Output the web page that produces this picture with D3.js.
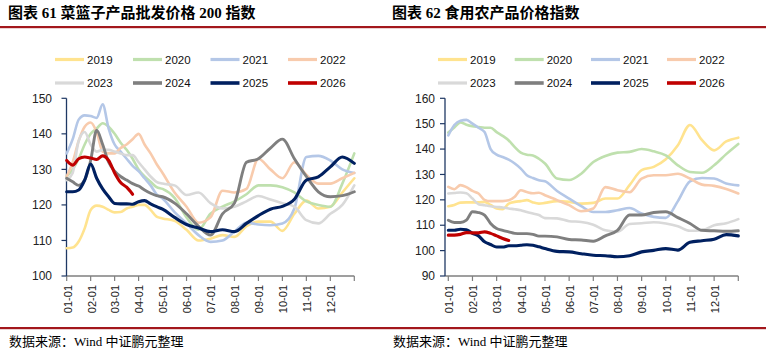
<!DOCTYPE html>
<html><head><meta charset="utf-8">
<script src="https://cdn.jsdelivr.net/npm/d3@7"></script>
<style>body{margin:0;background:#fff}svg{display:block}</style>
</head><body><svg id="c" width="766" height="354"></svg>
<script>
// ---------- data ----------
const years = ["2019","2020","2021","2022","2023","2024","2025","2026"];
const monthLabels = ["01-01","02-01","03-01","04-01","05-01","06-01","07-01","08-01","09-01","10-01","11-01","12-01"];
// position in months since 01-01
const monthPos = [0,0.25,0.5,0.75,1,1.25,1.5,1.75,2,2.25,2.5,2.75,3,3.25,3.5,3.75,4,4.5,5,5.5,6,6.5,7,7.5,8,8.5,9,9.5,10,10.5,11,11.5,12];
const basketTicks = [100,110,120,130,140,150];
const foodTicks = [90,100,110,120,130,140,150,160];

// 图表61 菜篮子产品批发价格200指数
const basket2019 = [107.8,108,109.7,113.4,118.6,119.8,119.5,118.6,117.9,118,119,119.5,120,120,118.6,116.7,116.2,115.5,113,110,110.5,111.5,111,114,115.3,115.3,112.7,117.5,121.2,119,119.5,123.5,127.5];
const basket2020 = [128,130,133,137,140,141.5,143,142,140,137.5,135.5,133,130,128,126.5,125,124.5,122,116.5,113,117.5,119.5,121,123,125.5,125.5,125,123.5,121,120,119.5,126,134.5];
const basket2021 = [134.5,138.5,144,145.2,145,144.5,148.3,141.5,137,135,133,131,129.5,127.5,125.5,123,121.8,118,114.8,111.5,109.6,110,112.5,115,114.5,114.3,114.8,119,133.5,133.8,132.5,130,129];
const basket2022 = [128,132,138,142,143.2,140.5,135,134.5,134.5,136,137,138.5,140,137,134.5,131.5,129,123.5,119.5,115,116.5,124,123.5,124.5,133,130,127.5,132,128.5,126,126,127.5,129];
const basket2023 = [127,129,138,140.5,137,135,135.5,135.5,135,134.5,134,134,132,130,128,126.5,126,125.5,122.8,123.5,120.5,119,119.5,121,122.5,121.5,120.5,119.5,115.7,114.8,117.5,120,125.5];
const basket2024 = [127.5,126.5,125.5,127,132.5,141,137,132,129.5,128,127,126,125.3,124.2,123.3,122.6,122.3,120.5,117.5,114,111.5,117.5,120.5,132,133,136,138.5,133,128,123.7,122.3,122.6,123.7];
const basket2025 = [123.7,123.7,124.2,127,131.5,127.5,124.5,122.3,120.4,120.3,120.3,120.2,120.9,121.2,120.3,119.5,118.8,116.5,114.5,113.5,112.5,113,112.5,114.8,117,118.8,119.6,121.6,127,127.9,130.7,133.5,131.7];
const basket2026 = [132.5,131.2,133,133.5,133.2,132.8,133.8,132.5,129,126.3,125,123];

// 图表62 食用农产品价格指数
const food2019 = [117.5,118,118.9,119,119,119,119.2,118,116.6,116.3,118.5,119.2,119.5,119.9,119,118.5,118.8,119.5,119.2,118.5,118.8,120.5,120.5,125.8,131.7,133,136,141.5,149.5,143.5,139.5,143,144.5];
const food2020 = [146.5,148.5,150.5,149.6,149,148.7,148.4,148.4,146.7,145.2,143.4,140.8,138.6,137.8,137.5,136.2,134.3,128.4,127.8,130.3,134.9,137.3,138.6,138.9,140,139.1,137.5,133.6,131,130.7,133.6,138,142];
const food2021 = [145.4,149.5,151.2,151.5,150,148.4,146.7,140,137.8,136.9,135.8,134.3,132.3,129.7,128.6,127.7,127.3,123.5,120.5,117.5,115.2,115.2,115.9,116.8,114.6,113.3,112.9,119.5,127.3,128.6,128.4,126.4,125.7];
const food2022 = [125.1,124.2,125.8,125,123.5,122.5,120,119.5,119.5,119.5,119.8,121.2,123.8,123.1,122.6,122.8,121.8,119.9,117.9,115.5,116.6,125,123.8,123,128.4,129.7,129.7,130.3,128.4,126,125.5,124.3,122.5];
const food2023 = [122.5,122.7,122.9,122.6,120.5,118.3,117.9,117.5,117.2,117,116.6,116.3,115.9,115.2,114.6,114,112.8,112.7,111.6,111.3,110.2,108,107.4,110.5,110.8,111.2,110.7,109.6,107.8,108,110,110.8,112.4];
const food2024 = [112,111.1,111.1,112,115.3,115,114,110.7,108.7,108,107.4,106.8,106.7,106.7,106.4,105.7,105.7,105.4,104.4,104.2,103.7,105.8,108,114,114,115,115.3,113,110.7,108,107.8,107.6,107.8];
const food2025 = [108,108,108.4,108.2,106.8,105.8,103.5,102.4,101.4,101.4,101.9,101.9,102.1,102.3,102.1,101.5,100.8,99.7,99.5,98.8,98.2,98,97.6,98,99.5,100.1,100.8,100.2,103.3,103.9,104.5,106.3,105.8];
const food2026 = [106.1,106.1,106.4,107.1,107,107,107.4,106.8,105.8,104.8,104];

// ---------- styles ----------
const colors = ["#FFE38F","#BFE0AE","#B4C7E7","#F8CBAD","#D9D9D9","#7F7F7F","#002060","#C00000"];
const widths = [2.6,2.6,2.6,2.6,2.6,2.9,3.1,3.1];

const svg = d3.select("#c");
const sansFont = "'Liberation Sans', Arial, sans-serif";
const titleFont = "'Liberation Serif','Times New Roman','Noto Sans CJK SC',serif";
const cjkFont = "'Liberation Serif','Noto Sans CJK SC',serif";

// rules
svg.append("rect").attr("x",0).attr("y",26).attr("width",766).attr("height",2.2).attr("fill","#A3171C");
svg.append("rect").attr("x",0).attr("y",327).attr("width",766).attr("height",2.2).attr("fill","#A3171C");

function panel(opt){
  const g = svg.append("g");
  g.append("text").attr("x",opt.titleX).attr("y",18).attr("font-family",titleFont)
    .attr("font-weight","bold").attr("font-size",15).attr("fill","#000").text(opt.title);
  g.append("text").attr("x",opt.titleX+1).attr("y",346).attr("font-family",cjkFont)
    .attr("font-size",13).attr("fill","#000").text("数据来源：Wind 中证鹏元整理");

  const x = d3.scaleLinear().domain([0,12]).range(opt.xr);
  const y = d3.scaleLinear().domain(opt.yd).range([276,98.3]);

  // legend
  years.forEach((yr,i)=>{
    const col = i%4, row = Math.floor(i/4);
    const lx = opt.legX + opt.legStep[col];
    const ly = row===0 ? 59.5 : 83;
    g.append("line").attr("x1",lx).attr("x2",lx+29).attr("y1",ly).attr("y2",ly)
      .attr("stroke",colors[i]).attr("stroke-width",i>=5?3.6:3.2);
    g.append("text").attr("x",lx+32).attr("y",ly).attr("dy","0.36em")
      .attr("font-family",sansFont).attr("font-size",11.5).attr("fill","#111").text(yr);
  });

  // x axis
  const xa = g.append("g").attr("transform","translate(0,276)");
  xa.append("line").attr("x1",opt.yAxisX).attr("x2",opt.xr[1]).attr("y1",0).attr("y2",0)
    .attr("stroke","#7F7F7F").attr("stroke-width",1.3);
  d3.range(13).forEach(k=>{
    xa.append("line").attr("x1",x(k)).attr("x2",x(k)).attr("y1",0).attr("y2",5)
      .attr("stroke","#7F7F7F").attr("stroke-width",1.2);
  });
  monthLabels.forEach((lab,k)=>{
    xa.append("text").attr("transform",`translate(${x(k)+1},9) rotate(-90)`)
      .attr("text-anchor","end").attr("dy","0.35em")
      .attr("font-family",sansFont).attr("font-size",11).attr("fill","#222").text(lab);
  });

  // y axis
  const ya = g.append("g");
  ya.append("line").attr("x1",opt.yAxisX).attr("x2",opt.yAxisX).attr("y1",98.3).attr("y2",276)
    .attr("stroke","#1F3864").attr("stroke-width",1.3);
  opt.ticks.forEach(t=>{
    ya.append("line").attr("x1",opt.yAxisX-5).attr("x2",opt.yAxisX).attr("y1",y(t)).attr("y2",y(t))
      .attr("stroke","#1F3864").attr("stroke-width",1.2);
    ya.append("text").attr("x",opt.labX).attr("y",y(t)).attr("dy","0.35em").attr("text-anchor","end")
      .attr("font-family",sansFont).attr("font-size",12).attr("fill","#222").text(t);
  });

  // lines
  const line = d3.line().defined(d=>d[1]!=null)
    .x(d=>x(d[0])).y(d=>y(d[1])).curve(d3.curveMonotoneX);
  opt.series.forEach((vals,i)=>{
    const pts = vals.map((v,j)=>[monthPos[j],v]);
    g.append("path").attr("d",line(pts)).attr("fill","none")
      .attr("stroke",colors[i]).attr("stroke-width",widths[i])
      .attr("stroke-linejoin","round").attr("stroke-linecap","round");
  });
}

panel({
  title:"图表 61 菜篮子产品批发价格 200 指数", titleX:8,
  xr:[66.7,354.3], yAxisX:66.5, yd:[100,150], ticks:basketTicks, labX:52,
  legX:55, legStep:[0,78,155.5,233],
  series:[basket2019,basket2020,basket2021,basket2022,basket2023,basket2024,basket2025,basket2026]
});
panel({
  title:"图表 62 食用农产品价格指数", titleX:392,
  xr:[448.3,738.3], yAxisX:445, yd:[90,160], ticks:foodTicks, labX:435,
  legX:438, legStep:[0,76.7,153,229],
  series:[food2019,food2020,food2021,food2022,food2023,food2024,food2025,food2026]
});
</script></body></html>
